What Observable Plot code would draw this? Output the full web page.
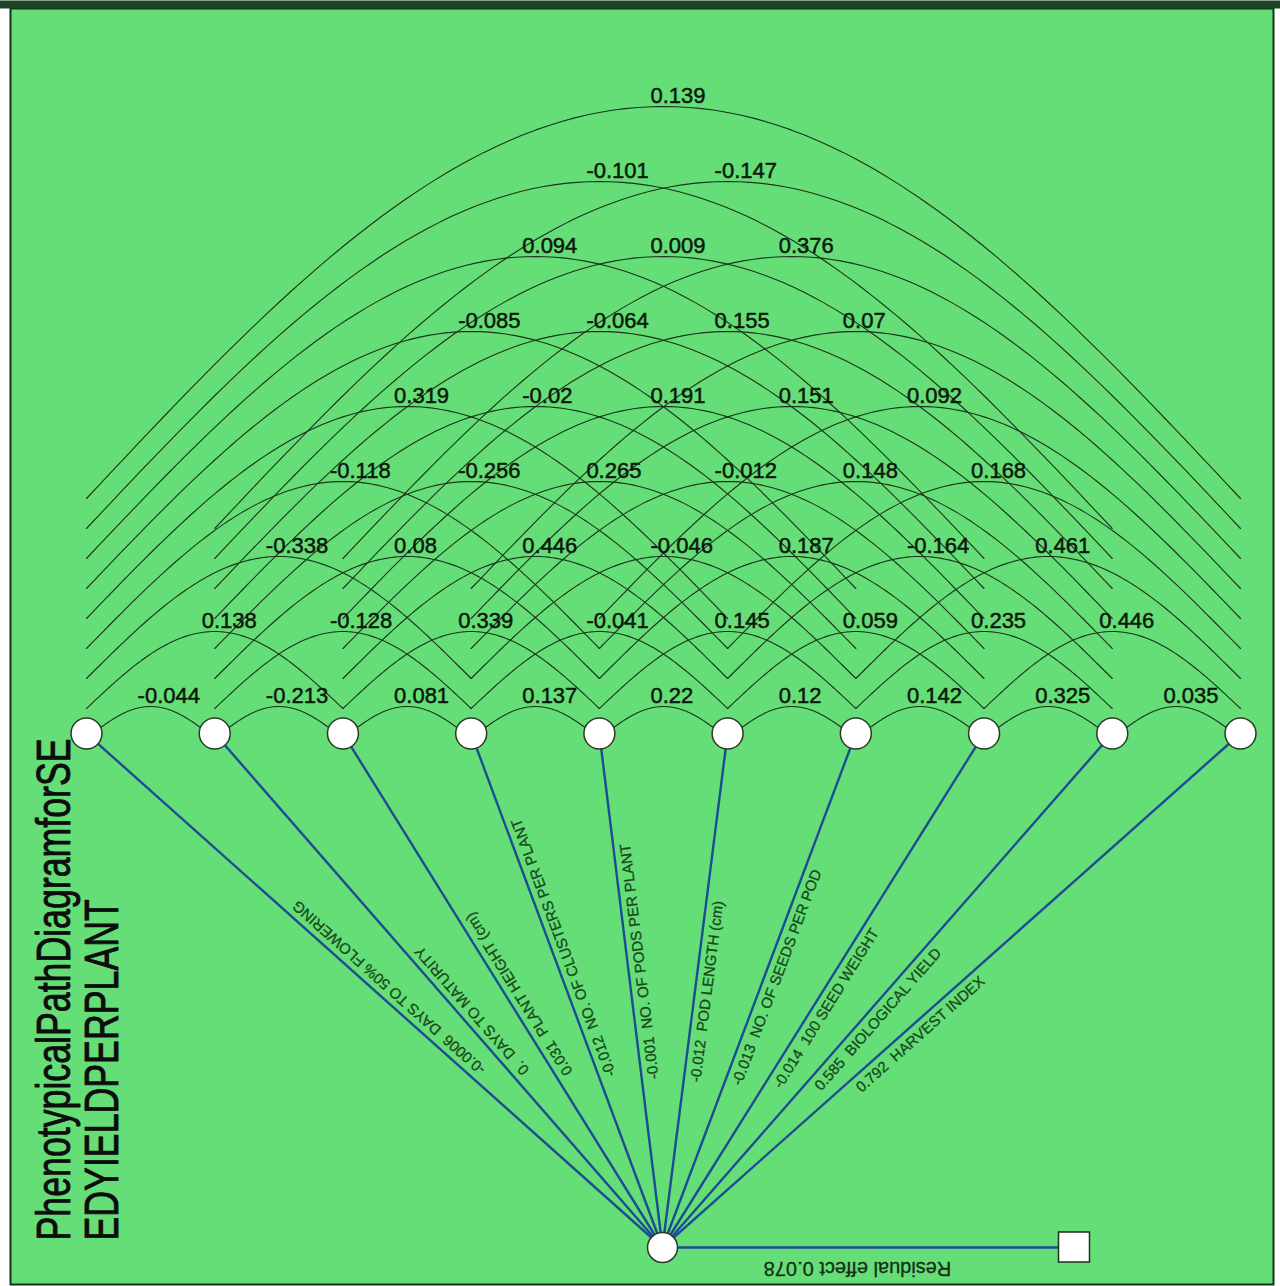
<!DOCTYPE html>
<html>
<head>
<meta charset="utf-8">
<script src="https://cdn.jsdelivr.net/npm/d3@7"></script>
<script src="https://cdn.jsdelivr.net/npm/@observablehq/plot@0.6"></script>
<style>
  html, body { margin: 0; padding: 0; background: #ffffff; }
  #chart svg { display: block; }
</style>
</head>
<body>
<div id="chart"></div>
<script>
// ---------------- DATA ----------------
const traits = [
  "DAYS TO 50% FLOWERING",
  "DAYS TO MATURITY",
  "PLANT HEIGHT (cm)",
  "NO. OF CLUSTERS PER PLANT",
  "NO. OF PODS PER PLANT",
  "POD LENGTH (cm)",
  "NO. OF SEEDS PER POD",
  "100 SEED WEIGHT",
  "BIOLOGICAL YIELD",
  "HARVEST INDEX"
];
const directEffects = [-0.0006, 0, 0.031, -0.012, -0.001, -0.012, -0.013, -0.014, 0.585, 0.792];

// correlations between traits i and i+span, listed by span
const corrSpan1 = [-0.044, -0.213, 0.081, 0.137, 0.22, 0.12, 0.142, 0.325, 0.035];
const corrSpan2 = [0.138, -0.128, 0.339, -0.041, 0.145, 0.059, 0.235, 0.446];
const corrSpan3 = [-0.338, 0.08, 0.446, -0.046, 0.187, -0.164, 0.461];
const corrSpan4 = [-0.118, -0.256, 0.265, -0.012, 0.148, 0.168];
const corrSpan5 = [0.319, -0.02, 0.191, 0.151, 0.092];
const corrSpan6 = [-0.085, -0.064, 0.155, 0.07];
const corrSpan7 = [0.094, 0.009, 0.376];
const corrSpan8 = [-0.101, -0.147];
const corrSpan9 = [0.139];

const residualEffect = 0.078;
const titleLines = ["PhenotypicalPathDiagramforSE", "EDYIELDPERPLANT"];

// ---------------- LAYOUT ----------------
const W = 1280, H = 1286;
const GREEN = "#66de78";
const ARC = "#1a331c";
const BLUE = "#1c4d90";
const FONT = "'Liberation Sans', Arial, Helvetica, sans-serif";

const rowY = 733;
const nodeX = i => 86 + i * (1154 / 9);
const bottom = {x: 662, y: 1247};
const squareC = {x: 1074, y: 1247};

const fmtEffect = v => v === 0 ? "0." : String(v);

const nodes = traits.map((name, i) => ({i, name, effect: directEffects[i], x: nodeX(i), y: rowY}));

const spans = [corrSpan1, corrSpan2, corrSpan3, corrSpan4, corrSpan5, corrSpan6, corrSpan7, corrSpan8, corrSpan9];
const arcs = [];
spans.forEach((vals, s) => {
  const k = s + 1;
  vals.forEach((v, i) => arcs.push({k, i, j: i + k, value: v}));
});

const arcEndY = k => 768 - 30 * k;
const arcPeakY = k => 781 - 75 * k;
const arcPoints = [];
const N = 90;
arcs.forEach((a, id) => {
  const x0 = nodeX(a.i), x1 = nodeX(a.j);
  const yE = arcEndY(a.k), h = yE - arcPeakY(a.k);
  for (let t = 0; t <= N; t++) {
    arcPoints.push({id, x: x0 + (x1 - x0) * t / N, y: yE - h * Math.sin(Math.PI * t / N)});
  }
});
const arcLabels = arcs.map(a => ({
  x: (nodeX(a.i) + nodeX(a.j)) / 2 - 13,
  y: arcPeakY(a.k) - 10.5,
  text: String(a.value)
}));

const lineLabels = nodes.map(n => {
  const dx = n.x - bottom.x, dy = n.y - bottom.y;
  const th = Math.atan2(dy, dx);
  const f = 0.325, off = 12;
  return {
    x: bottom.x + dx * f + off * (-Math.sin(th)),
    y: bottom.y + dy * f + off * Math.cos(th),
    rotate: th * 180 / Math.PI,
    text: fmtEffect(n.effect) + "  " + n.name
  };
});

const chart = Plot.plot({
  width: W,
  height: H,
  margin: 0,
  x: {domain: [0, W], range: [0, W], axis: null},
  y: {domain: [0, H], range: [0, H], axis: null},
  style: {background: "transparent", fontFamily: FONT},
  marks: [
    Plot.frame({fill: GREEN, stroke: "#14301a", strokeWidth: 2, insetLeft: 10, insetTop: 8, insetRight: 7, insetBottom: 2}),
    Plot.ruleY([4], {x1: 0, x2: W, stroke: "#1b4524", strokeWidth: 8}),
    Plot.line(arcPoints, {x: "x", y: "y", z: "id", stroke: ARC, strokeWidth: 1.1}),
    Plot.link(nodes, {x1: "x", y1: "y", x2: () => bottom.x, y2: () => bottom.y, stroke: BLUE, strokeWidth: 2.4}),
    Plot.link([squareC], {x1: () => bottom.x, y1: () => bottom.y, x2: "x", y2: "y", stroke: BLUE, strokeWidth: 2.4}),
    Plot.rect([squareC], {x1: d => d.x - 15.5, x2: d => d.x + 15.5, y1: d => d.y - 15, y2: d => d.y + 15, fill: "white", stroke: "#1e2e1e", strokeWidth: 1.5}),
    Plot.dot(nodes, {x: "x", y: "y", r: 15.5, fill: "white", stroke: "#2a3a2a", strokeWidth: 1.5}),
    Plot.dot([bottom], {x: "x", y: "y", r: 15, fill: "white", stroke: "#2a3a2a", strokeWidth: 1.5}),
    Plot.text(arcLabels, {x: "x", y: "y", text: "text", textAnchor: "start", lineAnchor: "middle", fontSize: 22, fill: "#0b180c", stroke: "#0b180c", strokeWidth: 0.5}),
    Plot.text(lineLabels, {x: "x", y: "y", text: "text", rotate: "rotate", textAnchor: "start", lineAnchor: "middle", fontSize: 15, fill: "#17481a", stroke: "#17481a", strokeWidth: 0.3}),
    Plot.text(["Residual effect " + residualEffect.toFixed(3)], {x: () => 857, y: () => 1268, text: d => d, rotate: 180, textAnchor: "middle", lineAnchor: "middle", fontSize: 20, fill: "#142e18", stroke: "#142e18", strokeWidth: 0.3}),
    Plot.text([titleLines.join("\n")], {x: () => 35, y: () => 1240, text: d => d, rotate: -90, textAnchor: "start", lineAnchor: "top", lineHeight: 1.0, fontSize: 48, fill: "#0d0d0d", stroke: "#0d0d0d", strokeWidth: 0.9})
  ]
});

// condense the title glyphs along the reading direction
chart.querySelectorAll("text").forEach(t => {
  if (t.textContent.startsWith("Phenotypical")) {
    const tr = t.getAttribute("transform") || "";
    t.setAttribute("transform", tr + " scale(0.744,1)");
  }
});
document.getElementById("chart").appendChild(chart);
</script>
</body>
</html>
